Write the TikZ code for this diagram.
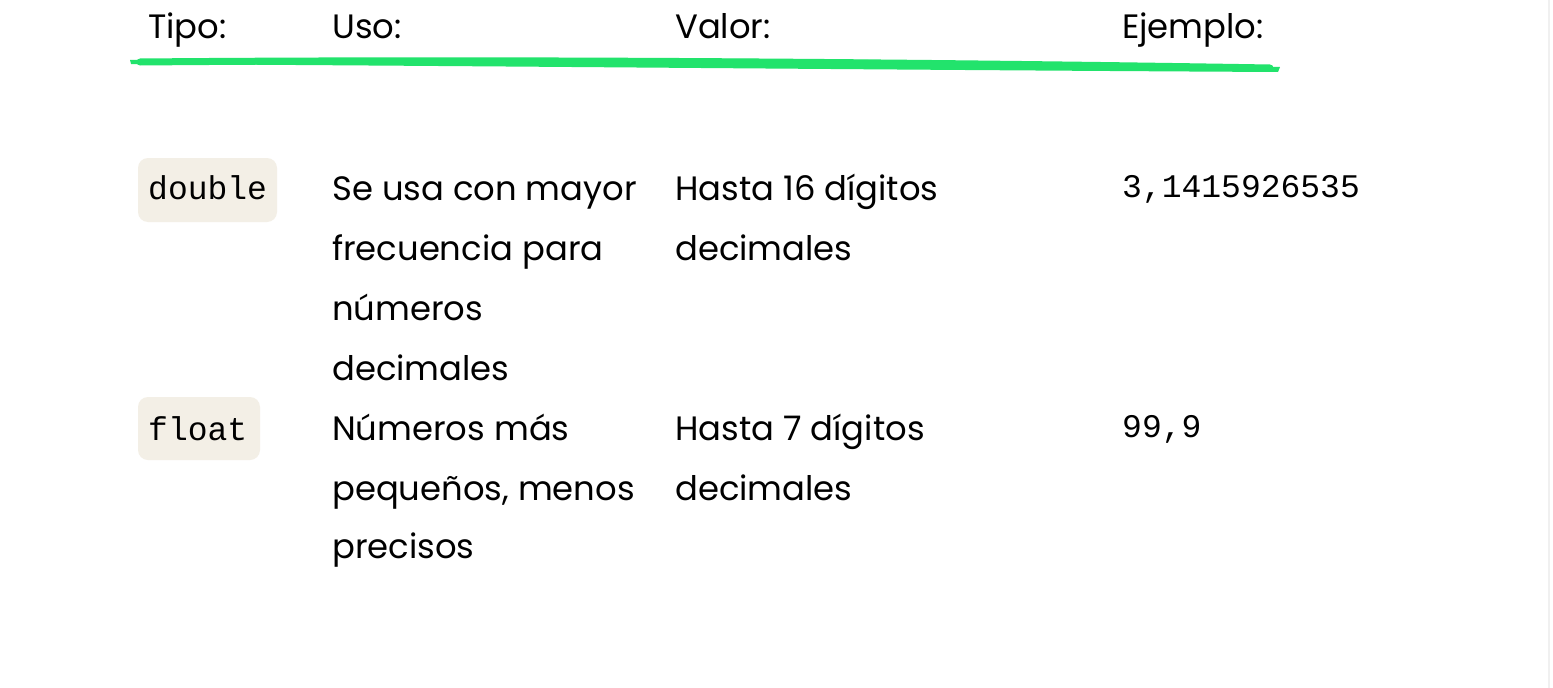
\documentclass[tikz,border=0pt]{standalone}
\usepackage{fontspec}
\setmainfont{Poppins}
\newfontfamily\mono{Liberation Mono}
\definecolor{chip}{HTML}{F3EFE6}
\definecolor{brush}{HTML}{22E36C}
\begin{document}
\begin{tikzpicture}[x=1pt,y=-1pt,
  txt/.style={anchor=base west,inner sep=0pt,font=\fontsize{33.8}{34}\selectfont},
  code/.style={anchor=base west,inner sep=0pt,font=\mono\fontsize{33}{33}\selectfont},
  chipbox/.style={fill=chip,rounded corners=10pt,draw=none}]
\useasboundingbox (0,0) rectangle (1553,688);
\fill[white] (0,0) rectangle (1553,688);
\draw[gray!12,line width=1.5pt] (1549,0) -- (1549,688);
% headers
\node[txt] (h1) at (148,38) {Tipo:};
\node[txt] (h2) at (332,38) {Uso:};
\node[txt] (h3) at (675,38) {Valor:};
\node[txt] (h4) at (1122,38) {Ejemplo:};
% brush stroke
\fill[brush] (130,60) .. controls (500,56) and (900,58) .. (1280,67) -- (1278,72) .. controls (900,70) and (500,66) .. (131,64) -- cycle;
\draw[brush,line width=7pt,line cap=round] (140,62) .. controls (500,59) and (900,62) .. (1270,68);
% chips
\fill[chipbox] (138,158) rectangle (277,222);
\fill[chipbox] (138,397) rectangle (260,460);
\node[code] (t1) at (148,199) {double};
\node[code] (t2) at (148,440) {float};
% row 1
\node[txt] (u1a) at (332,200) {Se usa con mayor};
\node[txt] (u1b) at (332,260) {frecuencia para};
\node[txt] (u1c) at (332,320) {números};
\node[txt] (u1d) at (332,380) {decimales};
\node[txt] (v1a) at (675,200) {Hasta 16 dígitos};
\node[txt] (v1b) at (675,260) {decimales};
\node[code] (e1) at (1122,197) {3,1415926535};
% row 2
\node[txt] (u2a) at (332,440) {Números más};
\node[txt] (u2b) at (332,500) {pequeños, menos};
\node[txt] (u2c) at (332,558) {precisos};
\node[txt] (v2a) at (675,440) {Hasta 7 dígitos};
\node[txt] (v2b) at (675,500) {decimales};
\node[code] (e2) at (1122,437) {99,9};
\end{tikzpicture}
\end{document}
